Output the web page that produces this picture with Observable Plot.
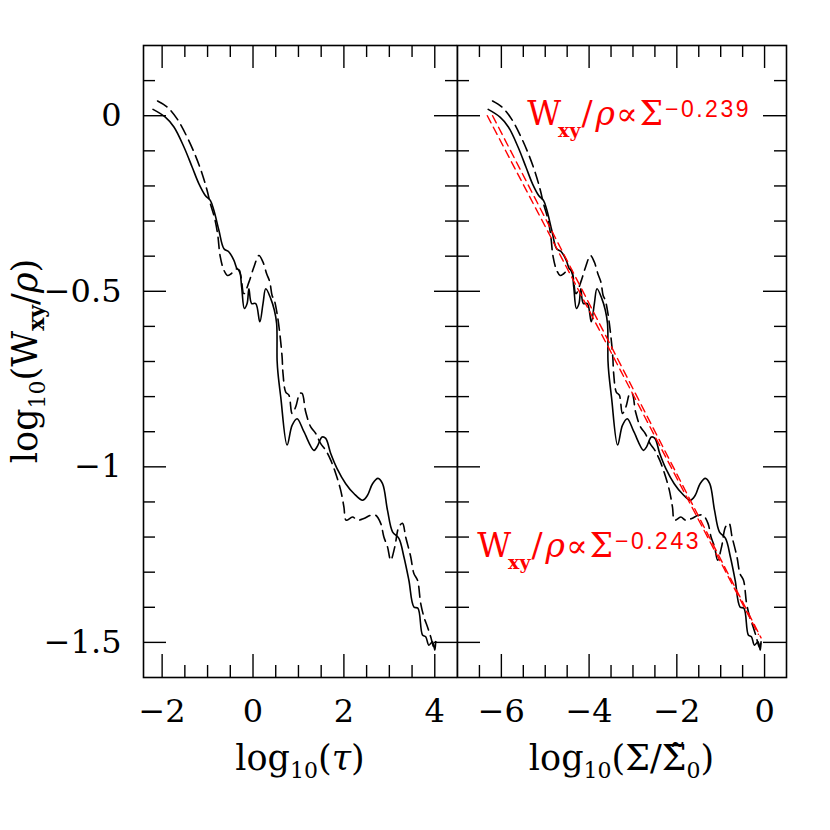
<!DOCTYPE html>
<html><head><meta charset="utf-8">
<script src="https://cdn.jsdelivr.net/npm/d3@7"></script>
<script src="https://cdn.jsdelivr.net/npm/@observablehq/plot@0.6"></script>
<style>
body{margin:0;background:#fff;}
#chart{display:flex;width:830px;height:830px;}
#chart svg{display:block;overflow:visible;}
</style></head><body><div id="chart"></div>
<script>
// ---- data ----
const tauSolid = [-2.2,-1.93,-1.74,-1.52,-1.34,-1.19,-1.05,-0.94,-0.86,-0.75,
  -0.64,-0.53,-0.42,-0.35,-0.30,-0.25,-0.19,-0.13,-0.09,-0.03,
  0.06,0.15,0.22,0.28,0.39,0.47,0.52,0.53,0.55,0.61,
  0.75,0.86,0.97,1.12,1.34,1.41,1.52,1.6,1.71,1.85,
  2.04,2.22,2.41,2.52,2.63,2.75,2.85,2.96,3.07,3.21,
  3.32,3.43,3.54,3.63,3.73,3.8,3.87,3.95,4.0,4.02];
const sigmaSolid = [-6.30,-6.03,-5.84,-5.62,-5.44,-5.29,-5.15,-5.04,-4.96,-4.85,
  -4.74,-4.63,-4.52,-4.45,-4.40,-4.35,-4.29,-4.23,-4.19,-4.13,
  -4.04,-3.95,-3.88,-3.82,-3.71,-3.63,-3.58,-3.57,-3.55,-3.49,
  -3.35,-3.24,-3.13,-2.98,-2.76,-2.69,-2.58,-2.50,-2.39,-2.25,
  -2.06,-1.88,-1.69,-1.58,-1.47,-1.35,-1.25,-1.14,-1.03,-0.89,
  -0.78,-0.67,-0.56,-0.47,-0.37,-0.30,-0.23,-0.15,-0.10,-0.08];
const wSolid = [0.018,-0.004,-0.032,-0.089,-0.146,-0.194,-0.227,-0.241,-0.27,-0.327,
  -0.379,-0.388,-0.412,-0.436,-0.44,-0.488,-0.549,-0.535,-0.493,-0.535,
  -0.535,-0.587,-0.535,-0.493,-0.521,-0.554,-0.592,-0.697,-0.734,-0.801,
  -0.938,-0.882,-0.863,-0.9,-0.953,-0.943,-0.915,-0.919,-0.962,-1.005,
  -1.048,-1.076,-1.095,-1.081,-1.048,-1.033,-1.048,-1.124,-1.185,-1.204,
  -1.256,-1.323,-1.399,-1.403,-1.479,-1.484,-1.508,-1.498,-1.522,-1.498];

const tauDashed = [-2.1,-1.89,-1.67,-1.45,-1.27,-1.12,-1.01,-0.94,-0.85,-0.78,
  -0.72,-0.64,-0.56,-0.48,-0.35,-0.28,-0.2,-0.09,0.02,0.13,
  0.22,0.3,0.37,0.42,0.47,0.53,0.59,0.64,0.66,0.72,
  0.79,0.86,0.94,1.03,1.08,1.16,1.27,1.38,1.49,1.6,
  1.71,1.82,1.93,2.0,2.05,2.19,2.3,2.44,2.59,2.7,
  2.81,2.88,2.96,3.03,3.12,3.21,3.29,3.36,3.47,3.54,
  3.62,3.69,3.76,3.84,3.91,3.98,4.02];
const sigmaDashed = [-6.20,-5.99,-5.77,-5.55,-5.37,-5.22,-5.11,-5.04,-4.95,-4.88,
  -4.82,-4.74,-4.66,-4.58,-4.45,-4.38,-4.30,-4.19,-4.08,-3.97,
  -3.88,-3.80,-3.73,-3.68,-3.63,-3.57,-3.51,-3.46,-3.44,-3.38,
  -3.31,-3.24,-3.16,-3.07,-3.02,-2.94,-2.83,-2.72,-2.61,-2.50,
  -2.39,-2.28,-2.17,-2.10,-2.05,-1.91,-1.80,-1.66,-1.51,-1.40,
  -1.29,-1.22,-1.14,-1.07,-0.98,-0.89,-0.81,-0.74,-0.63,-0.56,
  -0.48,-0.41,-0.34,-0.26,-0.19,-0.12,-0.08];
const wDashed = [0.042,0.025,-0.009,-0.061,-0.113,-0.165,-0.213,-0.25,-0.289,-0.336,
  -0.402,-0.44,-0.455,-0.45,-0.436,-0.45,-0.507,-0.474,-0.431,-0.398,
  -0.417,-0.45,-0.474,-0.512,-0.526,-0.564,-0.621,-0.687,-0.734,-0.787,
  -0.796,-0.848,-0.829,-0.791,-0.791,-0.844,-0.886,-0.905,-0.934,-0.953,
  -0.981,-1.019,-1.067,-1.114,-1.152,-1.143,-1.152,-1.147,-1.138,-1.138,
  -1.161,-1.2,-1.228,-1.266,-1.228,-1.171,-1.161,-1.2,-1.256,-1.304,
  -1.323,-1.389,-1.427,-1.456,-1.484,-1.513,-1.498];

// power-law fits (right panel)
const fitAx = [-6.32, -0.14], fitAy = [0.0, -1.477];   // slope -0.239
const fitBx = [-6.20, -0.08], fitBy = [0.0, -1.487];   // slope -0.243
const fitExponents = ["\u22120.239", "\u22120.243"];
const fitLabelX = [-5.4, -6.54];
const fitLabelY = [-0.028, -1.257];

// ticks
const yMajor = [0, -0.5, -1, -1.5];
const yMinor = [0.1,-0.1,-0.2,-0.3,-0.4,-0.6,-0.7,-0.8,-0.9,-1.1,-1.2,-1.3,-1.4];
const xMajorL = [-2, 0, 2, 4];
const xMinorL = [-1.5,-1,-0.5,0.5,1,1.5,2.5,3,3.5];
const xMajorR = [-6, -4, -2, 0];
const xMinorR = [-6.5,-5.5,-5,-4.5,-3.5,-3,-2.5,-1.5,-1,-0.5];

// ---- layout ----
const H = 830, MT = 45, MB = 153;
const FH = H - MT - MB;
const SERIF = "DejaVu Serif";
const fmt = d => d < 0 ? "\u2212" + Math.abs(d) : String(d);

function tickMarks(xMajor, xMinor, FW) {
  const big = 23, small = 12;
  return [
    Plot.tickX(xMajor, {x: d => d, insetTop: FH - big, strokeWidth: 1.4}),
    Plot.tickX(xMajor, {x: d => d, insetBottom: FH - big, strokeWidth: 1.4}),
    Plot.tickX(xMinor, {x: d => d, insetTop: FH - small, strokeWidth: 1.4}),
    Plot.tickX(xMinor, {x: d => d, insetBottom: FH - small, strokeWidth: 1.4}),
    Plot.tickY(yMajor, {y: d => d, insetRight: FW - big, strokeWidth: 1.4}),
    Plot.tickY(yMajor, {y: d => d, insetLeft: FW - big, strokeWidth: 1.4}),
    Plot.tickY(yMinor, {y: d => d, insetRight: FW - small, strokeWidth: 1.4}),
    Plot.tickY(yMinor, {y: d => d, insetLeft: FW - small, strokeWidth: 1.4}),
    Plot.frame({strokeWidth: 1.6})
  ];
}

const leftW = 457, leftML = 143;
const FWL = leftW - leftML;
const plotL = Plot.plot({
  width: leftW, height: H,
  marginLeft: leftML, marginRight: 0, marginTop: MT, marginBottom: MB,
  style: {fontFamily: SERIF, fontSize: "32px", background: "white", color: "black"},
  x: {domain: [-2.41, 4.5]},
  y: {domain: [-1.6, 0.2]},
  marks: [
    ...tickMarks(xMajorL, xMinorL, FWL),
    Plot.axisX({ticks: xMajorL, tickSize: 0, tickPadding: 22, label: null, tickFormat: fmt, fontSize: 32, fontFamily: SERIF}),
    Plot.axisY({ticks: yMajor, tickSize: 0, tickPadding: 22, label: null, tickFormat: fmt, fontSize: 32, fontFamily: SERIF}),
    Plot.line(tauDashed, {x: tauDashed, y: wDashed, stroke: "black", strokeWidth: 1.6, strokeDasharray: "11,6", curve: "catmull-rom"}),
    Plot.line(tauSolid, {x: tauSolid, y: wSolid, stroke: "black", strokeWidth: 1.6, curve: "catmull-rom"})
  ]
});

const rightW = 830 - leftW, rightMR = 44;
const FWR = rightW - rightMR;
const plotR = Plot.plot({
  width: rightW, height: H,
  marginLeft: 0, marginRight: rightMR, marginTop: MT, marginBottom: MB,
  style: {fontFamily: SERIF, fontSize: "32px", background: "white", color: "black"},
  x: {domain: [-7, 0.5]},
  y: {domain: [-1.6, 0.2], axis: null},
  marks: [
    ...tickMarks(xMajorR, xMinorR, FWR),
    Plot.axisX({ticks: xMajorR, tickSize: 0, tickPadding: 22, label: null, tickFormat: fmt, fontSize: 32, fontFamily: SERIF}),
    Plot.line(sigmaDashed, {x: sigmaDashed, y: wDashed, stroke: "black", strokeWidth: 1.6, strokeDasharray: "11,6", curve: "catmull-rom"}),
    Plot.line(sigmaSolid, {x: sigmaSolid, y: wSolid, stroke: "black", strokeWidth: 1.6, curve: "catmull-rom"}),
    Plot.line(fitAx, {x: fitAx, y: fitAy, stroke: "#ff0000", strokeWidth: 1.4, strokeDasharray: "8,5"}),
    Plot.line(fitBx, {x: fitBx, y: fitBy, stroke: "#ff0000", strokeWidth: 1.4, strokeDasharray: "8,5"})
  ]
});

const chart = document.getElementById("chart");
chart.appendChild(plotL);
chart.appendChild(plotR);

// rich text helper (sub/superscripts via tspans)
function rich(g, parts, attrs) {
  const t = g.append("text");
  for (const k in attrs) t.attr(k, attrs[k]);
  let cur = 0;
  for (const p of parts) {
    const off = p.shift || 0;
    const s = t.append("tspan").attr("dy", off - cur).text(p.t);
    if (p.dx) s.attr("dx", p.dx);
    if (p.size) s.attr("font-size", p.size);
    if (p.weight) s.attr("font-weight", p.weight);
    if (p.family) s.attr("font-family", p.family);
    if (p.style) s.attr("font-style", p.style);
    if (p.ls) s.attr("letter-spacing", p.ls);
    cur = off;
  }
  return t;
}

const gL = d3.select(plotL);
const gR = d3.select(plotR);
const xR = plotR.scale("x"), yR = plotR.scale("y");
const labelSize = 35, subSize = 22;

// axis labels
rich(gL, [
  {t: "log", size: labelSize},
  {t: "10", size: subSize, shift: 8},
  {t: "(W", size: labelSize, shift: 0},
  {t: "xy", size: subSize, weight: "bold", shift: 7},
  {t: "/", size: labelSize, shift: 0},
  {t: "\u03c1", size: labelSize, style: "italic"},
  {t: ")", size: labelSize}
], {transform: `translate(37,${MT + FH / 2}) rotate(-90)`, "text-anchor": "middle", "font-family": SERIF, fill: "black"});

rich(gL, [
  {t: "log", size: labelSize},
  {t: "10", size: subSize, shift: 8},
  {t: "(", size: labelSize, shift: 0},
  {t: "\u03c4", size: labelSize, style: "italic"},
  {t: ")", size: labelSize}
], {x: leftML + FWL / 2, y: 770, "text-anchor": "middle", "font-family": SERIF, fill: "black"});

rich(gR, [
  {t: "log", size: labelSize},
  {t: "10", size: subSize, shift: 8},
  {t: "(\u03a3/\u03a3\u0303", size: labelSize, shift: 0},
  {t: "0", size: subSize, shift: 8},
  {t: ")", size: labelSize, shift: 0}
], {x: FWR / 2, y: 770, "text-anchor": "middle", "font-family": SERIF, fill: "black"});

// red fit annotations
fitExponents.forEach((e, i) => {
  rich(gR, [
    {t: "W", size: 33},
    {t: "xy", size: 19, weight: "bold", shift: 12, dx: -3},
    {t: "/", size: 33, shift: 0, dx: 1},
    {t: "\u03c1", size: 33, style: "italic", dx: 3},
    {t: "\u221d", size: 32, dx: 1},
    {t: "\u03a3", size: 33, dx: 2},
    {t: e, size: 23, family: "Liberation Sans", ls: 2.5, shift: -8, dx: 2}
  ], {x: xR.apply(fitLabelX[i]), y: yR.apply(fitLabelY[i]), "text-anchor": "start", "font-family": SERIF, fill: "#ff0000"});
});
</script>
</body></html>
